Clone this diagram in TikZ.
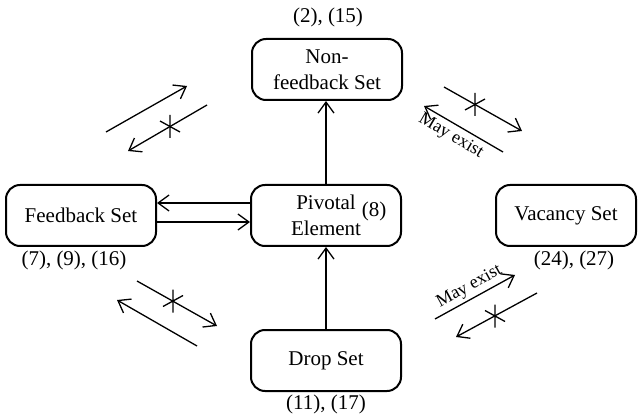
\documentclass[tikz,border=0pt]{standalone}
\usepackage{fontspec}
\setmainfont{Liberation Serif}
\usetikzlibrary{arrows.meta}
\begin{document}
\begin{tikzpicture}[x=1pt,y=-1pt,
  box/.style={draw, line width=2pt, rounded corners=14pt, minimum width=150pt, minimum height=61pt, align=center, inner sep=2pt, font=\fontsize{21}{25.5}\selectfont},
  lbl/.style={inner sep=0pt, font=\fontsize{21}{25}\selectfont},
  maylbl/.style={inner sep=4pt, font=\fontsize{18}{20}\selectfont, sloped},
  arr/.style={line width=1.3pt, -{Straight Barb[length=11pt,width=16pt,line width=1.3pt]}},
  xmark/.pic={\draw[line width=1.3pt] (0,-11.5)--(0,11.5) (-10,-5.5)--(10,5.5);}]
\useasboundingbox (0,0) rectangle (638,417);

% boxes
\node[box] (nf) at (327,69.5) {Non-\\feedback Set};
\node[box] (fb) at (81,215.5) {Feedback Set};
\node[box] (pv) at (326,215.5) {Pivotal\\Element};
\node[box, minimum width=140pt] (vc) at (566,215.5) {Vacancy Set};
\node[box] (dp) at (326,360.5) {Drop Set};

% labels
\node[lbl] (l2) at (328,17) {(2), (15)};
\node[lbl] (l7) at (74,260) {(7), (9), (16)};
\node[lbl] (l24) at (574,260) {(24), (27)};
\node[lbl] (l11) at (326,404) {(11), (17)};
\node[lbl] (l8) at (374,211) {(8)};

% straight connectors
\draw[arr] (pv.north) -- (pv.north |- nf.south);
\draw[arr] (dp.north) -- (dp.north |- pv.south);
\draw[arr] ([yshift=12.5pt]pv.west) -- ([yshift=12.5pt]fb.east);
\draw[arr] ([yshift=-6.5pt]fb.east) -- ([yshift=-6.5pt]pv.west);

% upper-left pair
\coordinate (a1s) at (106,132); \coordinate (a1e) at (187,86);
\coordinate (a2s) at (207,105); \coordinate (a2e) at (128,151);
\coordinate (a2x) at (170,126.5);
\draw[arr] (a1s) -- (a1e);
\draw[arr] (a2s) -- (a2e);
\pic at (a2x) {xmark};

% upper-right pair
\coordinate (b1s) at (444,87); \coordinate (b1e) at (522,131);
\coordinate (b1x) at (475,104.5);
\coordinate (b2s) at (503,152); \coordinate (b2e) at (424,106);
\draw[arr] (b1s) -- (b1e);
\pic[xscale=-1] at (b1x) {xmark};
\draw[arr] (b2s) -- node[maylbl, below, pos=0.58] {May exist} (b2e);

% lower-left pair
\coordinate (c1s) at (137,281); \coordinate (c1e) at (217,326);
\coordinate (c1x) at (173,301);
\coordinate (c2s) at (197,346); \coordinate (c2e) at (117,300);
\draw[arr] (c1s) -- (c1e);
\pic[xscale=-1] at (c1x) {xmark};
\draw[arr] (c2s) -- (c2e);

% lower-right pair
\coordinate (d1s) at (435,319); \coordinate (d1e) at (515,275);
\coordinate (d2s) at (537,293); \coordinate (d2e) at (456,337);
\coordinate (d2x) at (495,316);
\draw[arr] (d1s) -- node[maylbl, above, inner sep=3pt] {May exist} (d1e);
\draw[arr] (d2s) -- (d2e);
\pic at (d2x) {xmark};
\end{tikzpicture}
\end{document}
